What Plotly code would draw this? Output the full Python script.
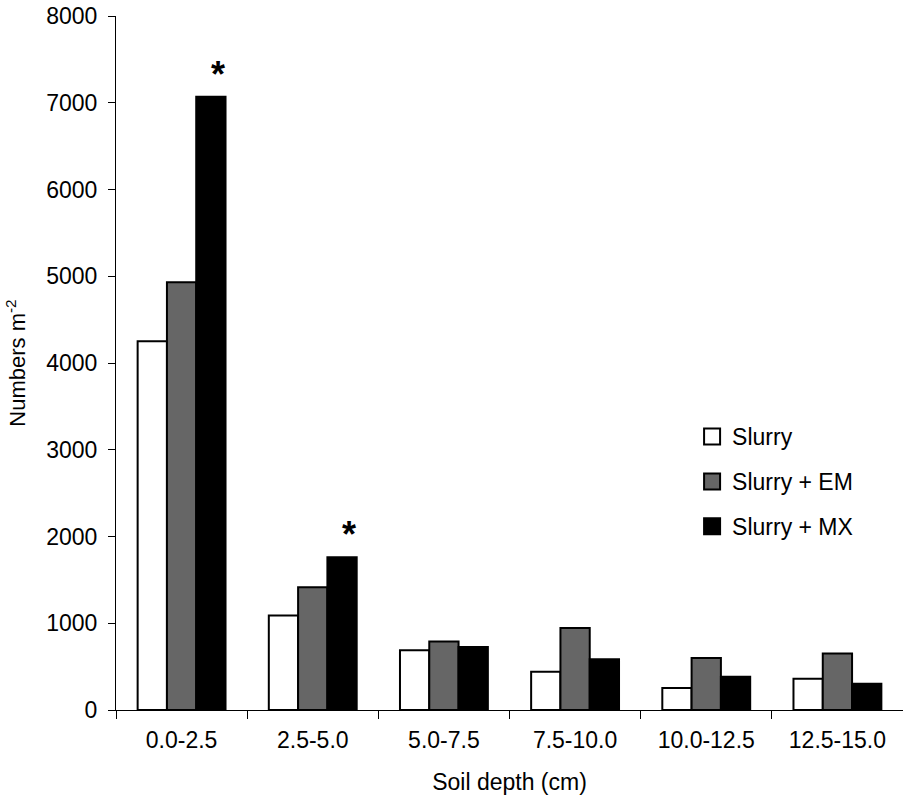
import plotly.graph_objects as go

categories = ["0.0-2.5", "2.5-5.0", "5.0-7.5", "7.5-10.0", "10.0-12.5", "12.5-15.0"]
slurry = [4250, 1090, 690, 440, 255, 360]
slurry_em = [4930, 1415, 790, 946, 600, 650]
slurry_mx = [7070, 1760, 727, 585, 384, 303]
mx_marks = ["*", "*", "", "", "", ""]

series_names = ["Slurry", "Slurry + EM", "Slurry + MX"]
fills = ["#ffffff", "#666666", "#000000"]

FONT = "Liberation Sans, Arial, sans-serif"

fig = go.Figure()
for name, vals, col in zip(series_names, [slurry, slurry_em, slurry_mx], fills):
    fig.add_trace(go.Bar(x=categories, y=vals, name=name, showlegend=False,
                         marker=dict(color=col, line=dict(color="black", width=2))))

# legend entries with square swatches
for i, (name, col) in enumerate(zip(series_names, fills)):
    fig.add_trace(go.Scatter(x=[None], y=[None], mode="markers", name=name,
                             legendgroup=f"g{i}",
                             marker=dict(symbol="square", size=16, color=col,
                                         line=dict(color="black", width=2))))

# significance marks above the Slurry + MX bars
for cat, val, mark in zip(categories, slurry_mx, mx_marks):
    if mark:
        fig.add_annotation(x=cat, y=val, text=mark, showarrow=False,
                           xref="x", yref="y", xshift=36, yshift=0,
                           yanchor="bottom", xanchor="center",
                           font=dict(size=36, color="black", family="Liberation Sans, Arial",
                                     weight="bold"))

fig.update_layout(
    width=903, height=799,
    margin=dict(l=116, r=0, t=16, b=89),
    paper_bgcolor="white", plot_bgcolor="white",
    barmode="group", bargap=0.33, bargroupgap=0,
    font=dict(family=FONT, size=23, color="black"),
    legend=dict(x=0.732, y=0.425, xanchor="left", yanchor="top",
                bgcolor="rgba(0,0,0,0)", font=dict(size=23),
                tracegroupgap=12, itemsizing="trace", itemwidth=30),
    xaxis=dict(type="category", showline=True, linecolor="black", linewidth=1,
               ticks="outside", ticklen=8, tickcolor="black", tickson="boundaries",
               automargin=False, ticklabelstandoff=9,
               title=dict(text="Soil depth (cm)", font=dict(size=23), standoff=22),
               tickfont=dict(size=23), showgrid=False),
    yaxis=dict(range=[0, 8000], dtick=1000, showline=True, linecolor="black", linewidth=1,
               ticks="outside", ticklen=7, tickcolor="black", showgrid=False, zeroline=False,
               automargin=False, ticklabelstandoff=6, ticklabeloverflow="allow",
               tickfont=dict(size=23),
               title=dict(text="Numbers m<sup>-2</sup>", font=dict(size=22), standoff=14)),
)

fig.write_html("out.html", config={"displayModeBar": False},
               post_script="document.body.style.margin='0';document.body.style.overflow='hidden';")
